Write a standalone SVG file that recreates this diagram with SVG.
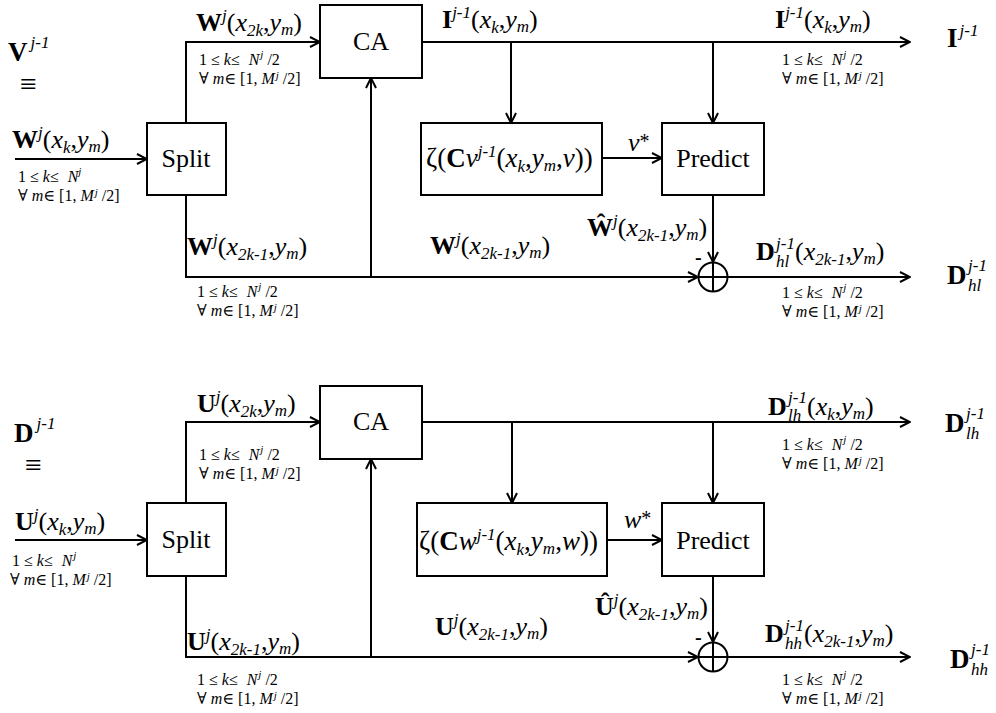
<svg xmlns="http://www.w3.org/2000/svg" width="996" height="713" viewBox="0 0 996 713">
<style>
.t{font-family:"Liberation Serif","Times New Roman","DejaVu Serif",serif;fill:#000}
.n{font-size:26px;text-anchor:middle}
.l{font-size:26px}
.z{font-size:27px}
.big{font-size:27px}
.s{font-size:17px;font-style:italic}
.sm{font-size:16px}
.ss{font-size:11px;font-style:italic}
.eq{font-size:30px}
.b{font-weight:bold}
.i{font-style:italic}
.box{fill:#fff;stroke:#000;stroke-width:2}
.c{fill:none;stroke:#000;stroke-width:2}
</style>
<defs>
<marker id="ah" viewBox="0 0 12 12" refX="11" refY="6" markerWidth="12" markerHeight="12" markerUnits="userSpaceOnUse" orient="auto">
<path d="M1,1 L11,6 L1,11" fill="none" stroke="#000" stroke-width="2"/>
</marker>
</defs>

<g id="connectors">
<path class="c" d="M15,159 H147" marker-end="url(#ah)"/>
<path class="c" d="M186,123 V42 H320" marker-end="url(#ah)"/>
<path class="c" d="M186,195 V277 H698" marker-end="url(#ah)"/>
<path class="c" d="M371,277 V78" marker-end="url(#ah)"/>
<path class="c" d="M422,42 H910" marker-end="url(#ah)"/>
<path class="c" d="M511,42 V123" marker-end="url(#ah)"/>
<path class="c" d="M713,42 V123" marker-end="url(#ah)"/>
<path class="c" d="M602,158 H662" marker-end="url(#ah)"/>
<path class="c" d="M713,195 V262" marker-end="url(#ah)"/>
<path class="c" d="M727,277 H910" marker-end="url(#ah)"/>

<path class="c" d="M15,540 H147" marker-end="url(#ah)"/>
<path class="c" d="M186,503 V422 H320" marker-end="url(#ah)"/>
<path class="c" d="M186,576 V657 H698" marker-end="url(#ah)"/>
<path class="c" d="M371,657 V459" marker-end="url(#ah)"/>
<path class="c" d="M422,422 H910" marker-end="url(#ah)"/>
<path class="c" d="M512,422 V503" marker-end="url(#ah)"/>
<path class="c" d="M713,422 V503" marker-end="url(#ah)"/>
<path class="c" d="M607,540 H662" marker-end="url(#ah)"/>
<path class="c" d="M713,576 V642" marker-end="url(#ah)"/>
<path class="c" d="M727,657 H910" marker-end="url(#ah)"/>
</g>

<!-- Top half nodes -->
<g id="split1"><rect class="box" x="147" y="123" width="79" height="72"/><text class="t n" x="186" y="167">Split</text></g>
<g id="ca1"><rect class="box" x="320" y="5" width="102" height="73"/><text class="t n" x="371" y="50">CA</text></g>
<g id="zeta1"><rect class="box" x="421" y="123" width="181" height="72"/>
<text class="t z" x="426" y="167">ζ(<tspan class="b">C</tspan><tspan class="i">v</tspan><tspan class="s" dy="-10">j-1</tspan><tspan dy="10">(</tspan><tspan class="i">x</tspan><tspan class="s" dy="5">k</tspan><tspan dy="-5">,</tspan><tspan class="i">y</tspan><tspan class="s" dy="4">m</tspan><tspan dy="-4">,</tspan><tspan class="i">v</tspan>))</text></g>
<g id="predict1"><rect class="box" x="662" y="123" width="102" height="72"/><text class="t n" x="713" y="167">Predict</text></g>
<g id="adder1"><circle class="c" cx="713" cy="277" r="14.5"/><path class="c" d="M698.5,277 H727.5 M713,262.5 V291.5"/></g>

<!-- Bottom half nodes -->
<g id="split2"><rect class="box" x="147" y="503" width="79" height="73"/><text class="t n" x="186" y="548">Split</text></g>
<g id="ca2"><rect class="box" x="320" y="386" width="102" height="73"/><text class="t n" x="371" y="430">CA</text></g>
<g id="zeta2"><rect class="box" x="417" y="503" width="190" height="73"/>
<text class="t z" x="419" y="550" font-size="28">ζ(<tspan class="b">C</tspan><tspan class="i">w</tspan><tspan class="s" dy="-10">j-1</tspan><tspan dy="10">(</tspan><tspan class="i">x</tspan><tspan class="s" dy="5">k</tspan><tspan dy="-5">,</tspan><tspan class="i">y</tspan><tspan class="s" dy="4">m</tspan><tspan dy="-4">,</tspan><tspan class="i">w</tspan>))</text></g>
<g id="predict2"><rect class="box" x="662" y="503" width="102" height="73"/><text class="t n" x="713" y="549">Predict</text></g>
<g id="adder2"><circle class="c" cx="713" cy="657" r="14.5"/><path class="c" d="M698.5,657 H727.5 M713,642.5 V671.5"/></g>

<!-- Top labels -->
<g id="labels-top">
<text class="t big" x="8" y="61"><tspan class="b">V</tspan><tspan class="s" dx="3" dy="-13">j-1</tspan></text>
<text class="t eq" x="20" y="94">≡</text>
<text class="t l" x="12" y="148"><tspan class="b">W</tspan><tspan class="s" dy="-10">j</tspan><tspan dy="10">(</tspan><tspan class="i">x</tspan><tspan class="s" dy="5">k</tspan><tspan dy="-5">,</tspan><tspan class="i">y</tspan><tspan class="s" dy="4">m</tspan><tspan dy="-4">)</tspan></text>
<text class="t sm" x="18" y="182">1 ≤ <tspan class="i">k</tspan>≤ <tspan class="i" dx="5">N</tspan><tspan class="ss" dy="-7">j</tspan></text>
<text class="t sm" x="18" y="201">∀ <tspan class="i">m</tspan>∈ [1, <tspan class="i">M</tspan><tspan class="ss" dx="1" dy="-5">j</tspan><tspan dx="4" dy="5">/2]</tspan></text>

<text class="t l" x="196" y="31"><tspan class="b">W</tspan><tspan class="s" dy="-10">j</tspan><tspan dy="10">(</tspan><tspan class="i">x</tspan><tspan class="s" dy="5">2k</tspan><tspan dy="-5">,</tspan><tspan class="i">y</tspan><tspan class="s" dy="4">m</tspan><tspan dy="-4">)</tspan></text>
<text class="t sm" x="199" y="65">1 ≤ <tspan class="i">k</tspan>≤ <tspan class="i" dx="5">N</tspan><tspan class="ss" dx="1" dy="-7">j</tspan><tspan dx="4" dy="7">/2</tspan></text>
<text class="t sm" x="199" y="84">∀ <tspan class="i">m</tspan>∈ [1, <tspan class="i">M</tspan><tspan class="ss" dx="1" dy="-5">j</tspan><tspan dx="4" dy="5">/2]</tspan></text>

<text class="t l" x="442" y="28"><tspan class="b">I</tspan><tspan class="s" dy="-10">j-1</tspan><tspan dy="10">(</tspan><tspan class="i">x</tspan><tspan class="s" dy="5">k</tspan><tspan dy="-5">,</tspan><tspan class="i">y</tspan><tspan class="s" dy="4">m</tspan><tspan dy="-4">)</tspan></text>
<text class="t l" x="628" y="151"><tspan class="i">v</tspan><tspan font-size="20" dy="-3">*</tspan></text>

<text class="t l" x="775" y="28"><tspan class="b">I</tspan><tspan class="s" dy="-10">j-1</tspan><tspan dy="10">(</tspan><tspan class="i">x</tspan><tspan class="s" dy="5">k</tspan><tspan dy="-5">,</tspan><tspan class="i">y</tspan><tspan class="s" dy="4">m</tspan><tspan dy="-4">)</tspan></text>
<text class="t sm" x="782" y="65">1 ≤ <tspan class="i">k</tspan>≤ <tspan class="i" dx="5">N</tspan><tspan class="ss" dx="1" dy="-7">j</tspan><tspan dx="4" dy="7">/2</tspan></text>
<text class="t sm" x="782" y="84">∀ <tspan class="i">m</tspan>∈ [1, <tspan class="i">M</tspan><tspan class="ss" dx="1" dy="-5">j</tspan><tspan dx="4" dy="5">/2]</tspan></text>
<text class="t big" x="947" y="47"><tspan class="b">I</tspan><tspan class="s" dx="2" dy="-11">j-1</tspan></text>

<text class="t l" x="187" y="255"><tspan class="b">W</tspan><tspan class="s" dy="-10">j</tspan><tspan dy="10">(</tspan><tspan class="i">x</tspan><tspan class="s" dy="5">2k-1</tspan><tspan dy="-5">,</tspan><tspan class="i">y</tspan><tspan class="s" dy="4">m</tspan><tspan dy="-4">)</tspan></text>
<text class="t sm" x="197" y="297">1 ≤ <tspan class="i">k</tspan>≤ <tspan class="i" dx="5">N</tspan><tspan class="ss" dx="1" dy="-7">j</tspan><tspan dx="4" dy="7">/2</tspan></text>
<text class="t sm" x="197" y="316">∀ <tspan class="i">m</tspan>∈ [1, <tspan class="i">M</tspan><tspan class="ss" dx="1" dy="-5">j</tspan><tspan dx="4" dy="5">/2]</tspan></text>

<text class="t l" x="430" y="254"><tspan class="b">W</tspan><tspan class="s" dy="-10">j</tspan><tspan dy="10">(</tspan><tspan class="i">x</tspan><tspan class="s" dy="5">2k-1</tspan><tspan dy="-5">,</tspan><tspan class="i">y</tspan><tspan class="s" dy="4">m</tspan><tspan dy="-4">)</tspan></text>
<text class="t l" x="587" y="236"><tspan class="b">Ŵ</tspan><tspan class="s" dy="-10">j</tspan><tspan dy="10">(</tspan><tspan class="i">x</tspan><tspan class="s" dy="5">2k-1</tspan><tspan dy="-5">,</tspan><tspan class="i">y</tspan><tspan class="s" dy="4">m</tspan><tspan dy="-4">)</tspan></text>
<text class="t b" x="695" y="264" font-size="20">-</text>

<text class="t l" x="756" y="260"><tspan class="b">D</tspan><tspan class="s" x="776" y="249">j-1</tspan><tspan class="s" x="776" y="267">hl</tspan><tspan x="795" y="260">(</tspan><tspan class="i">x</tspan><tspan class="s" dy="5">2k-1</tspan><tspan dy="-5">,</tspan><tspan class="i">y</tspan><tspan class="s" dy="4">m</tspan><tspan dy="-4">)</tspan></text>
<text class="t sm" x="782" y="298">1 ≤ <tspan class="i">k</tspan>≤ <tspan class="i" dx="5">N</tspan><tspan class="ss" dx="1" dy="-7">j</tspan><tspan dx="4" dy="7">/2</tspan></text>
<text class="t sm" x="782" y="317">∀ <tspan class="i">m</tspan>∈ [1, <tspan class="i">M</tspan><tspan class="ss" dx="1" dy="-5">j</tspan><tspan dx="4" dy="5">/2]</tspan></text>
<text class="t big" x="947" y="284"><tspan class="b">D</tspan><tspan class="s" x="968" y="271">j-1</tspan><tspan class="s" x="968" y="291">hl</tspan></text>
</g>

<!-- Bottom labels -->
<g id="labels-bottom">
<text class="t big" x="14" y="442"><tspan class="b">D</tspan><tspan class="s" dx="3" dy="-13">j-1</tspan></text>
<text class="t eq" x="25" y="475">≡</text>
<text class="t l" x="15" y="530"><tspan class="b">U</tspan><tspan class="s" dy="-10">j</tspan><tspan dy="10">(</tspan><tspan class="i">x</tspan><tspan class="s" dy="5">k</tspan><tspan dy="-5">,</tspan><tspan class="i">y</tspan><tspan class="s" dy="4">m</tspan><tspan dy="-4">)</tspan></text>
<text class="t sm" x="12" y="566">1 ≤ <tspan class="i">k</tspan>≤ <tspan class="i" dx="5">N</tspan><tspan class="ss" dx="1" dy="-7">j</tspan></text>
<text class="t sm" x="10" y="585">∀ <tspan class="i">m</tspan>∈ [1, <tspan class="i">M</tspan><tspan class="ss" dx="1" dy="-5">j</tspan><tspan dx="4" dy="5">/2]</tspan></text>

<text class="t l" x="197" y="412"><tspan class="b">U</tspan><tspan class="s" dy="-10">j</tspan><tspan dy="10">(</tspan><tspan class="i">x</tspan><tspan class="s" dy="5">2k</tspan><tspan dy="-5">,</tspan><tspan class="i">y</tspan><tspan class="s" dy="4">m</tspan><tspan dy="-4">)</tspan></text>
<text class="t sm" x="199" y="460">1 ≤ <tspan class="i">k</tspan>≤ <tspan class="i" dx="5">N</tspan><tspan class="ss" dx="1" dy="-7">j</tspan><tspan dx="4" dy="7">/2</tspan></text>
<text class="t sm" x="199" y="479">∀ <tspan class="i">m</tspan>∈ [1, <tspan class="i">M</tspan><tspan class="ss" dx="1" dy="-5">j</tspan><tspan dx="4" dy="5">/2]</tspan></text>

<text class="t l" x="768" y="415"><tspan class="b">D</tspan><tspan class="s" x="788" y="403">j-1</tspan><tspan class="s" x="788" y="421">lh</tspan><tspan x="807" y="415">(</tspan><tspan class="i">x</tspan><tspan class="s" dy="5">k</tspan><tspan dy="-5">,</tspan><tspan class="i">y</tspan><tspan class="s" dy="4">m</tspan><tspan dy="-4">)</tspan></text>
<text class="t sm" x="782" y="450">1 ≤ <tspan class="i">k</tspan>≤ <tspan class="i" dx="5">N</tspan><tspan class="ss" dx="1" dy="-7">j</tspan><tspan dx="4" dy="7">/2</tspan></text>
<text class="t sm" x="782" y="469">∀ <tspan class="i">m</tspan>∈ [1, <tspan class="i">M</tspan><tspan class="ss" dx="1" dy="-5">j</tspan><tspan dx="4" dy="5">/2]</tspan></text>
<text class="t big" x="945" y="432"><tspan class="b">D</tspan><tspan class="s" x="966" y="419">j-1</tspan><tspan class="s" x="966" y="439">lh</tspan></text>

<text class="t l" x="624" y="528"><tspan class="i">w</tspan><tspan font-size="20" dy="-3">*</tspan></text>

<text class="t l" x="187" y="650"><tspan class="b">U</tspan><tspan class="s" dy="-10">j</tspan><tspan dy="10">(</tspan><tspan class="i">x</tspan><tspan class="s" dy="5">2k-1</tspan><tspan dy="-5">,</tspan><tspan class="i">y</tspan><tspan class="s" dy="4">m</tspan><tspan dy="-4">)</tspan></text>
<text class="t sm" x="197" y="685">1 ≤ <tspan class="i">k</tspan>≤ <tspan class="i" dx="5">N</tspan><tspan class="ss" dx="1" dy="-7">j</tspan><tspan dx="4" dy="7">/2</tspan></text>
<text class="t sm" x="197" y="704">∀ <tspan class="i">m</tspan>∈ [1, <tspan class="i">M</tspan><tspan class="ss" dx="1" dy="-5">j</tspan><tspan dx="4" dy="5">/2]</tspan></text>

<text class="t l" x="435" y="635"><tspan class="b">U</tspan><tspan class="s" dy="-10">j</tspan><tspan dy="10">(</tspan><tspan class="i">x</tspan><tspan class="s" dy="5">2k-1</tspan><tspan dy="-5">,</tspan><tspan class="i">y</tspan><tspan class="s" dy="4">m</tspan><tspan dy="-4">)</tspan></text>
<text class="t l" x="595" y="615"><tspan class="b">Û</tspan><tspan class="s" dy="-10">j</tspan><tspan dy="10">(</tspan><tspan class="i">x</tspan><tspan class="s" dy="5">2k-1</tspan><tspan dy="-5">,</tspan><tspan class="i">y</tspan><tspan class="s" dy="4">m</tspan><tspan dy="-4">)</tspan></text>
<text class="t b" x="695" y="644" font-size="20">-</text>

<text class="t l" x="765" y="642"><tspan class="b">D</tspan><tspan class="s" x="785" y="631">j-1</tspan><tspan class="s" x="785" y="649">hh</tspan><tspan x="804" y="642">(</tspan><tspan class="i">x</tspan><tspan class="s" dy="5">2k-1</tspan><tspan dy="-5">,</tspan><tspan class="i">y</tspan><tspan class="s" dy="4">m</tspan><tspan dy="-4">)</tspan></text>
<text class="t sm" x="782" y="685">1 ≤ <tspan class="i">k</tspan>≤ <tspan class="i" dx="5">N</tspan><tspan class="ss" dx="1" dy="-7">j</tspan><tspan dx="4" dy="7">/2</tspan></text>
<text class="t sm" x="782" y="704">∀ <tspan class="i">m</tspan>∈ [1, <tspan class="i">M</tspan><tspan class="ss" dx="1" dy="-5">j</tspan><tspan dx="4" dy="5">/2]</tspan></text>
<text class="t big" x="950" y="668"><tspan class="b">D</tspan><tspan class="s" x="971" y="655">j-1</tspan><tspan class="s" x="971" y="675">hh</tspan></text>
</g>
</svg>
